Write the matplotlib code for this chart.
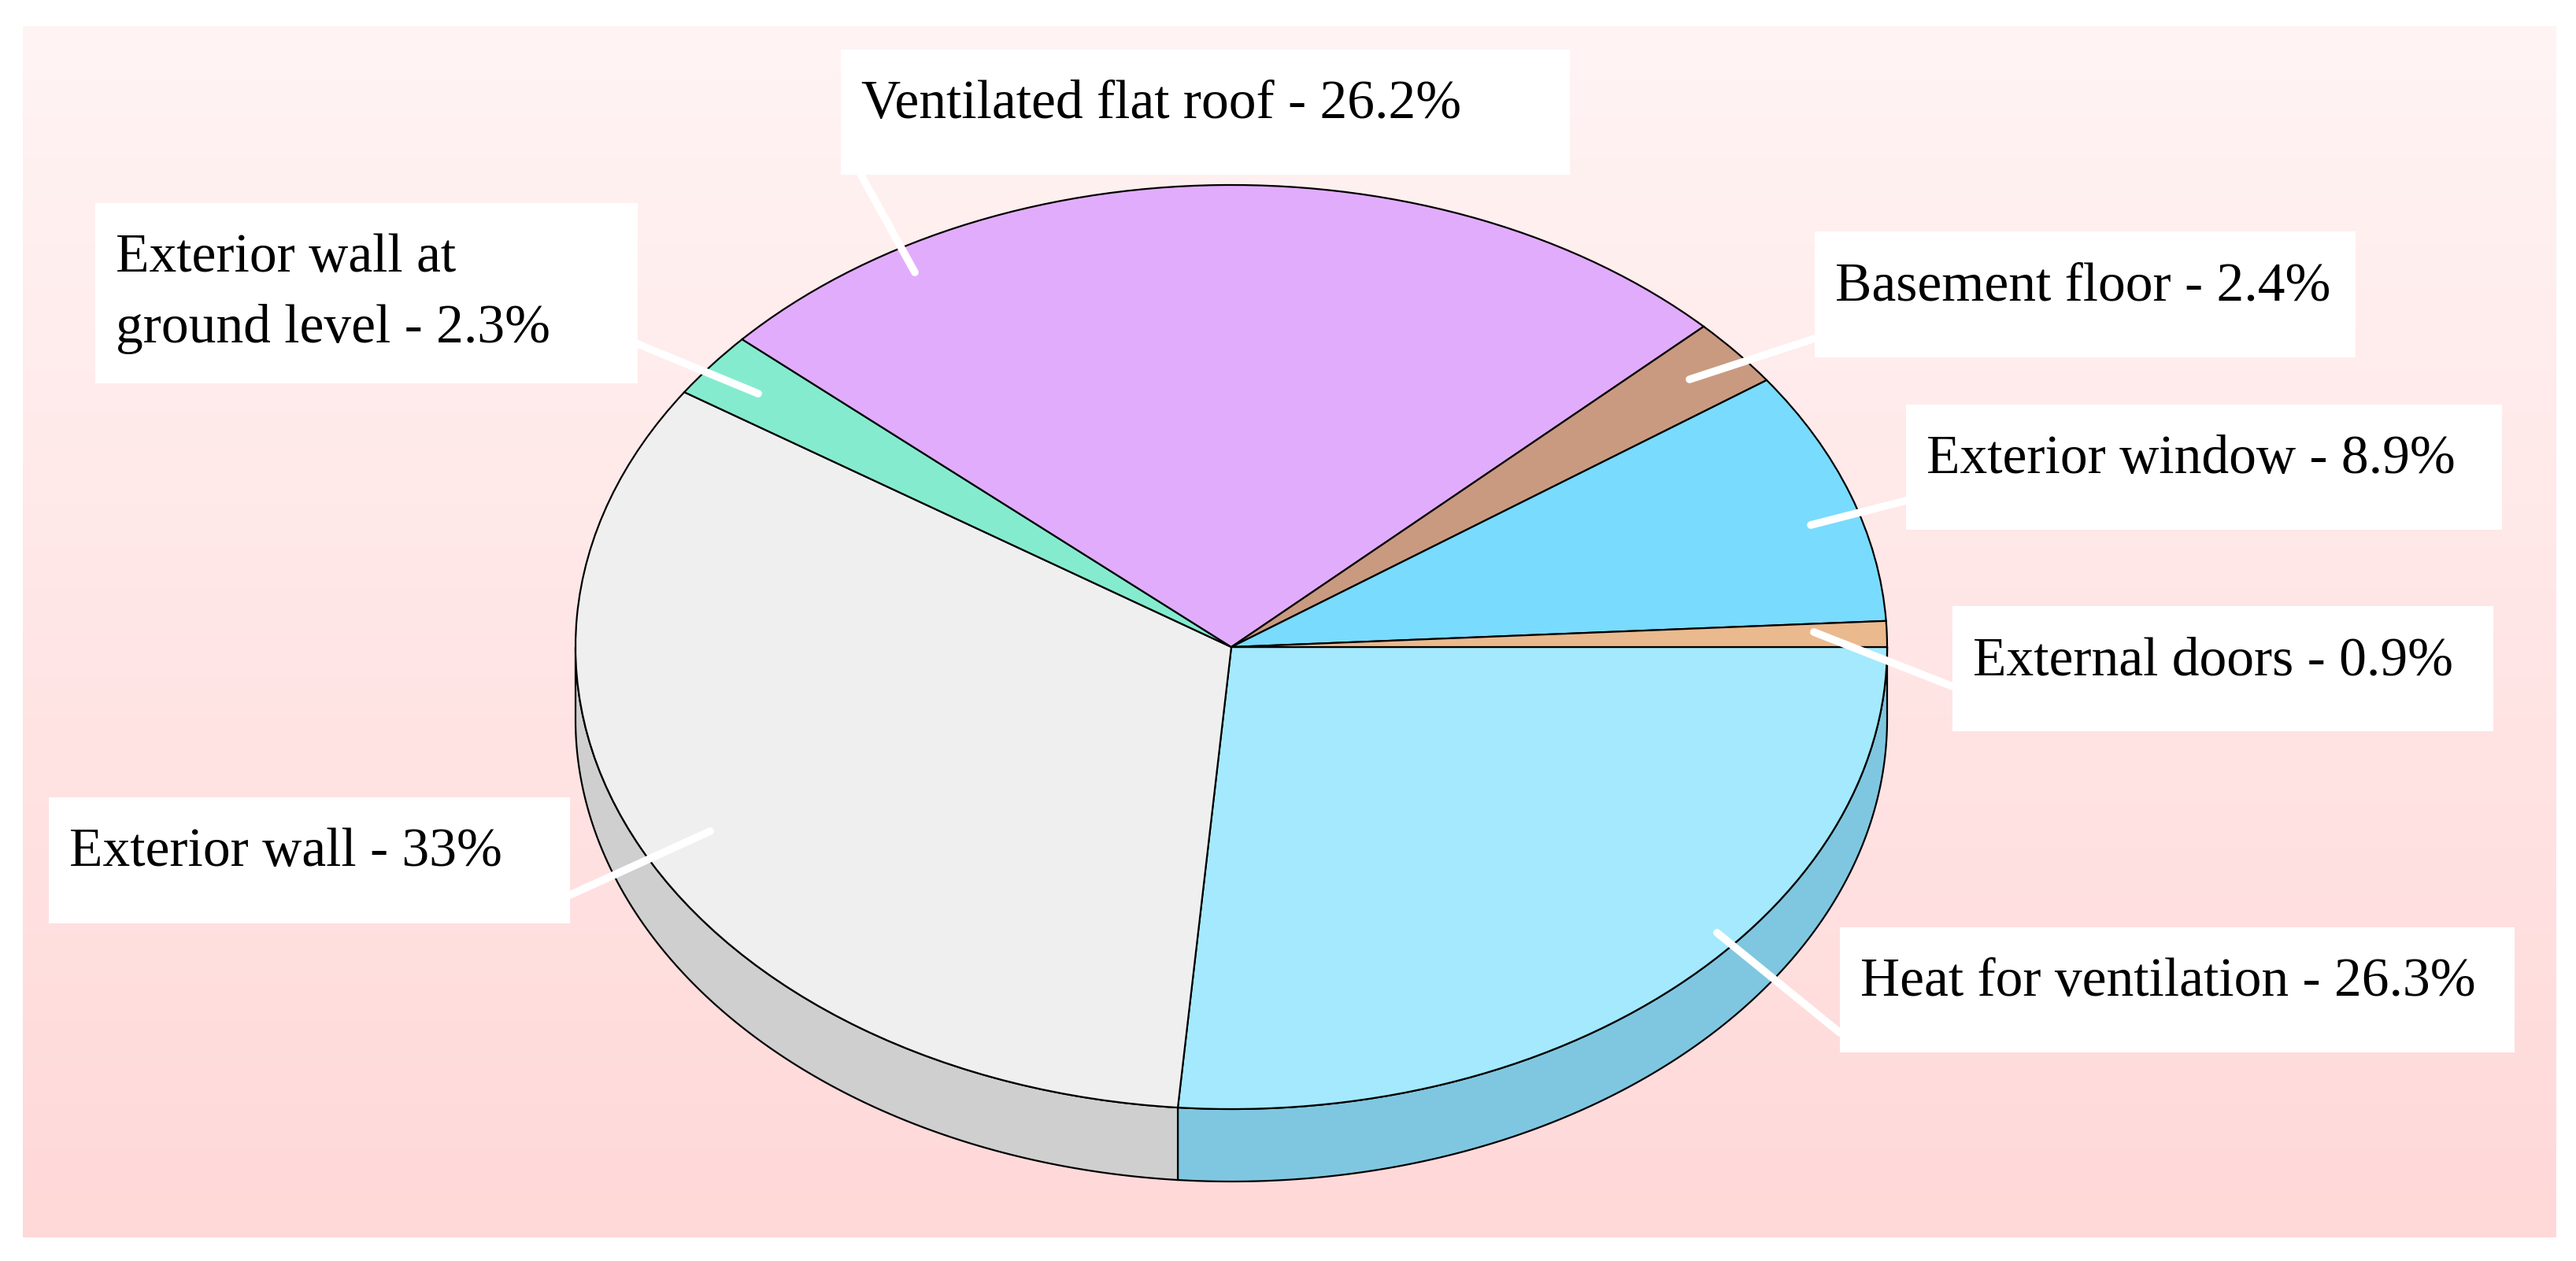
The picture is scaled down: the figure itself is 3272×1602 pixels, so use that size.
import numpy as np
import matplotlib
matplotlib.use('Agg')
import matplotlib.pyplot as plt
from matplotlib.patches import Rectangle

''' Data '''
names = ['Heat for ventilation', 'Exterior wall', 'Exterior wall at\nground level',
         'Ventilated flat roof', 'Basement floor', 'Exterior window', 'External doors']
shares = [26.3, 33.0, 2.3, 26.2, 2.4, 8.9, 0.9]
top_colors = ['#a4e9fd', '#efefef', '#85ebcf', '#e2acfc', '#c99a80', '#79dbfd', '#eab98e']
side_colors = ['#7fc7e0', '#cfcfcf', '#6cc9af', '#c28fd8', '#a87e67', '#5fbcdd', '#c99a70']

''' Layout (pixels) '''
W, H = 3273, 1602
cx, cy, rx, ry = 1564, 822, 833, 587
depth = 92
# label boxes: x0, y0, x1, y1
boxes = [(2337, 1178, 3194, 1337), (62, 1013, 724, 1173), (121, 258, 810, 487),
         (1068, 63, 1994, 222), (2305, 294, 2992, 454), (2421, 514, 3178, 673),
         (2480, 770, 3167, 929)]
# leader lines: start at box, end inside slice
leaders = [((2337, 1312), (2181, 1185)), ((724, 1137), (902, 1056)),
           ((810, 437), (963, 500)), ((1093, 221), (1162, 346)),
           ((2305, 430), (2146, 482)), ((2421, 636), (2300, 667)),
           ((2480, 872), (2304, 803))]

fig = plt.figure(figsize=(W / 100, H / 100), dpi=100)
fig.patch.set_facecolor('white')

# gradient background
bg = fig.add_axes([29 / W, (H - 1572) / H, (3247 - 29) / W, (1572 - 33) / H])
top_c = np.array([255, 244, 244]) / 255.0
bot_c = np.array([255, 216, 216]) / 255.0
g = np.linspace(0, 1, 256)[:, None]
grad = top_c[None, :] * (1 - g) + bot_c[None, :] * g
bg.imshow(grad[:, None, :], aspect='auto', extent=(0, 1, 0, 1), origin='upper')
bg.axis('off')

# pie axes: unit circle maps to ellipse rx x ry
ax = fig.add_axes([0, 0, 1, 1])
ax.patch.set_alpha(0)
wedges, _ = ax.pie(shares, colors=top_colors, startangle=0, counterclock=False,
                   radius=1, wedgeprops=dict(edgecolor='black', linewidth=1.6))
for w in wedges:
    w.set_zorder(2)
d = depth / ry
for w, sc in zip(wedges, side_colors):
    t1 = w.theta1 % 360
    t2 = t1 + (w.theta2 - w.theta1)
    a, b = max(t1, 180), min(t2, 360)
    if b <= a:
        continue
    t = np.radians(np.linspace(a, b, 200))
    xs = np.concatenate([np.cos(t), np.cos(t[::-1])])
    ys = np.concatenate([np.sin(t), np.sin(t[::-1]) - d])
    ax.fill(xs, ys, facecolor=sc, edgecolor='black', linewidth=1.6, zorder=1)
ax.set_aspect('auto')
ax.set_xlim(-cx / rx, (W - cx) / rx)
ax.set_ylim(-(H - cy) / ry, cy / ry)
ax.axis('off')

# annotation overlay in pixel coordinates
ann = fig.add_axes([0, 0, 1, 1])
ann.patch.set_alpha(0)
ann.set_xlim(0, W)
ann.set_ylim(H, 0)
ann.axis('off')

for name, pct, box, (p0, p1) in zip(names, shares, boxes, leaders):
    ann.plot([p0[0], p1[0]], [p0[1], p1[1]], color='white', linewidth=7,
             solid_capstyle='round', zorder=2)
    x0, y0, x1, y1 = box
    ann.add_patch(Rectangle((x0, y0), x1 - x0, y1 - y0, facecolor='white',
                            edgecolor='none', zorder=3))
    text = f"{name} - {pct:g}%"
    for i, line in enumerate(text.split('\n')):
        ann.text(x0 + 26, y0 + 87 + i * 90, line, fontsize=50,
                 family=['Liberation Serif', 'DejaVu Serif'],
                 ha='left', va='baseline', color='black', zorder=4)

fig.savefig('out.png', dpi=100)
